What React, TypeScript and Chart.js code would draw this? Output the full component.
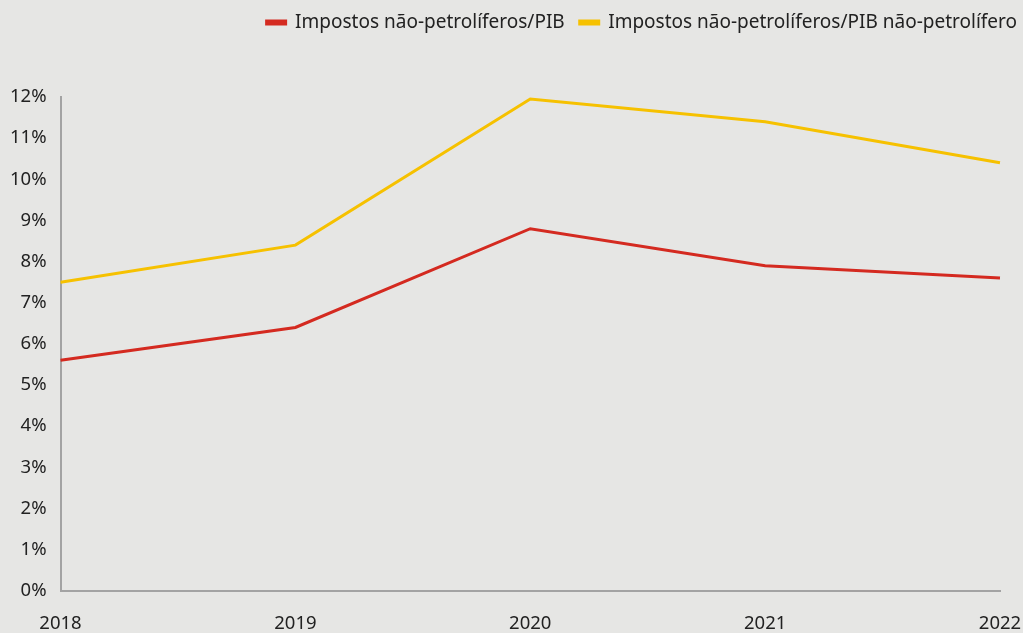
import React, { useEffect, useRef } from "react";
import { Chart, registerables } from "chart.js";

Chart.register(...registerables);

const years = ["2018", "2019", "2020", "2021", "2022"];
const taxToGdp = [5.6, 6.4, 8.8, 7.9, 7.6];
const taxToNonOilGdp = [7.5, 8.4, 11.95, 11.4, 10.4];
const seriesNames = ["Impostos não-petrolíferos/PIB", "Impostos não-petrolíferos/PIB não-petrolífero"];

const BG = "#e6e6e4";
const FONT = "'Noto Sans', 'Open Sans', sans-serif";
const FS = 18.5;

export default function App() {
  const ref = useRef<HTMLCanvasElement | null>(null);
  useEffect(() => {
    document.body.style.margin = "0";
    document.body.style.background = BG;
    const chart = new Chart(ref.current!, {
      type: "line",
      data: {
        labels: years,
        datasets: [
          {
            label: seriesNames[0],
            data: taxToGdp,
            borderColor: "#d42a20",
            backgroundColor: "#d42a20",
            borderWidth: 3,
            pointRadius: 0,
            tension: 0,
          },
          {
            label: seriesNames[1],
            data: taxToNonOilGdp,
            borderColor: "#f6c100",
            backgroundColor: "#f6c100",
            borderWidth: 3,
            pointRadius: 0,
            tension: 0,
          },
        ],
      },
      options: {
        animation: false,
        responsive: false,
        maintainAspectRatio: false,
        layout: { padding: { top: -2, right: 0, left: -4, bottom: -24 } },
        plugins: {
          tooltip: { enabled: false },
          legend: {
            position: "top",
            align: "end",
            labels: {
              boxWidth: 19,
              boxHeight: 3,
              color: "#222",
              font: { family: FONT, size: 19 },
              padding: 15,
            },
          },
        },
        scales: {
          x: {
            offset: false,
            grid: { display: false, drawTicks: false },
            border: { display: true, color: "#a3a3a3", width: 2 },
            ticks: { color: "#222", font: { family: FONT, size: FS }, padding: 22, maxRotation: 0 },
            afterFit: (s: any) => {
              s.paddingRight = 23;
            },
          },
          y: {
            min: 0,
            max: 12,
            grid: { display: false, drawTicks: false },
            border: { display: true, color: "#a3a3a3", width: 2 },
            ticks: {
              stepSize: 1,
              color: "#222",
              font: { family: FONT, size: FS },
              padding: 14,
              callback: (v: any) => v + "%",
            },
          },
        },
      },
      plugins: [
        {
          id: "bg",
          beforeInit(c: any) {
            const legend = c.legend;
            if (legend) {
              const orig = legend.fit;
              legend.fit = function () {
                orig.call(this);
                this.height += 55;
              };
            }
          },
          afterLayout(c: any) {
            const legend = c.legend;
            if (legend) {
              legend.left += 9;
              legend.right += 9;
            }
          },
          beforeDraw(c: any) {
            const ctx = c.ctx;
            ctx.save();
            ctx.fillStyle = BG;
            ctx.fillRect(0, 0, c.width, c.height);
            ctx.restore();
          },
        },
      ],
    });
    return () => chart.destroy();
  }, []);
  return (
    <div style={{ width: 1023, height: 633, background: BG }}>
      <canvas ref={ref} width={1023} height={633} style={{ display: "block" }} />
    </div>
  );
}
